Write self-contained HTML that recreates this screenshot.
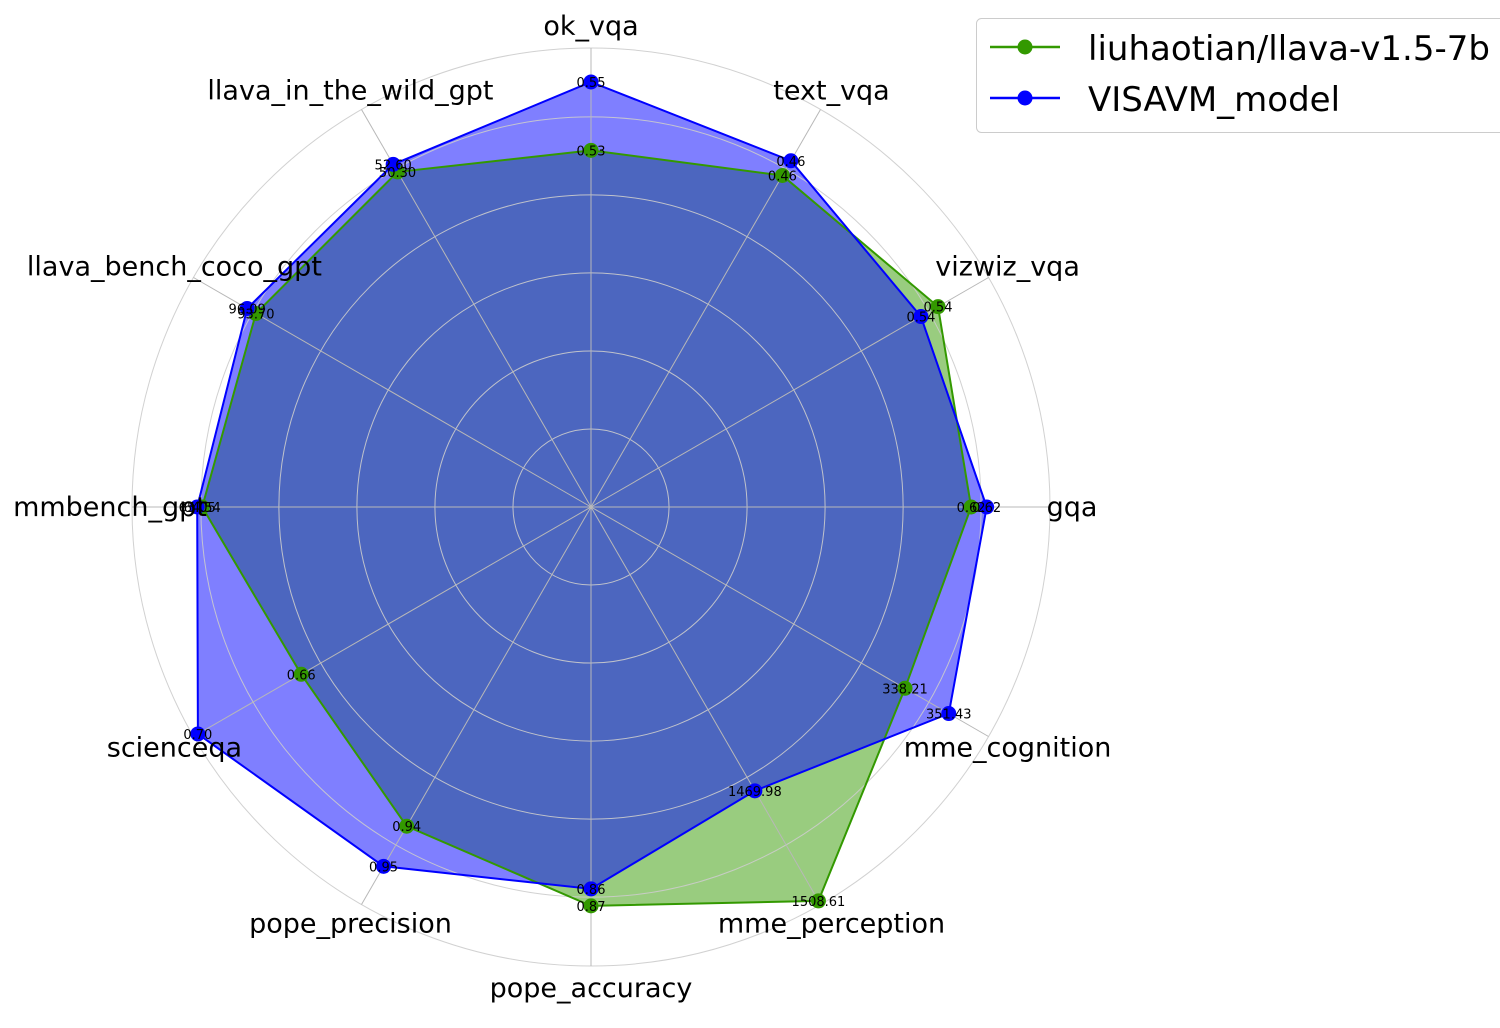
<!DOCTYPE html>
<html><head><meta charset="utf-8"><style>
html,body{margin:0;padding:0;background:#fff;}
svg{display:block;font-family:"DejaVu Sans","Liberation Sans",sans-serif;}
</style></head><body>
<svg id="chart" width="1500" height="1028" viewBox="0 0 1500 1028">
<g id="fills"></g>
<g id="grid"></g>
<g id="series"></g>
<g id="labels"></g>
<g>
<rect x="976.5" y="18.5" width="530" height="114" rx="5" fill="#fff" stroke="#ccc"/>
<g>
<line x1="990" y1="47" x2="1060" y2="47" stroke="#339900" stroke-width="2.5"/>
<circle cx="1025" cy="47" r="7.5" fill="#339900"/>
<text x="1088" y="60" font-size="34" fill="#000">liuhaotian/llava-v1.5-7b</text>
</g>
<g>
<line x1="990" y1="98" x2="1060" y2="98" stroke="#0000ff" stroke-width="2.5"/>
<circle cx="1025" cy="98" r="7.5" fill="#0000ff"/>
<text x="1088" y="111" font-size="34" fill="#000">VISAVM_model</text>
</g>
</g>
</svg>
<script>
const categories = ["ok_vqa","text_vqa","vizwiz_vqa","gqa","mme_cognition","mme_perception","pope_accuracy","pope_precision","scienceqa","mmbench_gpt","llava_bench_coco_gpt","llava_in_the_wild_gpt"];
// normalized scores (fraction of outer radius)
const llavaValues = [0.777,0.834,0.873,0.828,0.790,0.991,0.869,0.803,0.729,0.847,0.843,0.843];
const visavmValues = [0.926,0.871,0.830,0.862,0.900,0.714,0.832,0.904,0.989,0.858,0.865,0.862];
const llavaLabels = ["0.53","0.46","0.54","0.62","338.21","1508.61","0.87","0.94","0.66","64.54","93.70","50.30"];
const visavmLabels = ["0.55","0.46","0.54","0.62","351.43","1469.98","0.86","0.95","0.70","65.05","96.09","52.60"];
const ringLevels = [0.17,0.34,0.51,0.68,0.85,1.0];

const NS="http://www.w3.org/2000/svg";
const cx=591, cy=507, R=459;
function ang(i){return Math.PI/2 - i*2*Math.PI/categories.length;}
function px(i,v){return cx+Math.cos(ang(i))*v*R;}
function py(i,v){return cy-Math.sin(ang(i))*v*R;}
function mk(tag,attrs,parent){const e=document.createElementNS(NS,tag);for(const k in attrs)e.setAttribute(k,attrs[k]);parent.appendChild(e);return e;}
function ptsOf(vals){return vals.map((v,i)=>px(i,v).toFixed(1)+','+py(i,v).toFixed(1)).join(' ');}

const fills=document.getElementById('fills');
const fa=mk('polygon',{points:ptsOf(llavaValues),fill:'#339900','fill-opacity':0.5},fills);


const fb=mk('polygon',{points:ptsOf(visavmValues),fill:'#0000ff','fill-opacity':0.5},fills);



const grid=document.getElementById('grid');
ringLevels.forEach((lv,k)=>{
  const c=mk('circle',{cx:cx,cy:cy,r:lv*R,fill:'none',stroke:'#cccccc','stroke-width':1,'stroke-opacity':0.9},grid);
  
  
});
categories.forEach((c,i)=>{
  const l=mk('line',{x1:cx,y1:cy,x2:px(i,1),y2:py(i,1),stroke:'#b8b8b8','stroke-width':1},grid);
  
  
});

const series=document.getElementById('series');
function drawSeries(vals,color,name){
  const g=mk('g',{},series);
  
  
  const p=mk('polygon',{points:ptsOf(vals),fill:'none',stroke:color,'stroke-width':2},g);
  
  
  vals.forEach((v,i)=>{
    const c=mk('circle',{cx:px(i,v),cy:py(i,v),r:7.5,fill:color},g);
    
    
  });
}
drawSeries(llavaValues,'#339900','series-llava');
drawSeries(visavmValues,'#0000ff','series-visavm');
function drawVals(vals,labels,name){
  vals.forEach((v,i)=>{
    const t=mk('text',{x:px(i,v),y:py(i,v)+5,'font-size':13,'text-anchor':'middle',fill:'#000'},series);
    t.textContent=labels[i];
    
    
  });
}
drawVals(llavaValues,llavaLabels,'llava');
drawVals(visavmValues,visavmLabels,'visavm');

const lab=document.getElementById('labels');
categories.forEach((c,i)=>{
  const rr=1.048;
  const t=mk('text',{x:px(i,rr),y:py(i,rr)+9,'font-size':27,'text-anchor':'middle',fill:'#000'},lab);
  t.textContent=c;
  
  
});
</script>
</body></html>
